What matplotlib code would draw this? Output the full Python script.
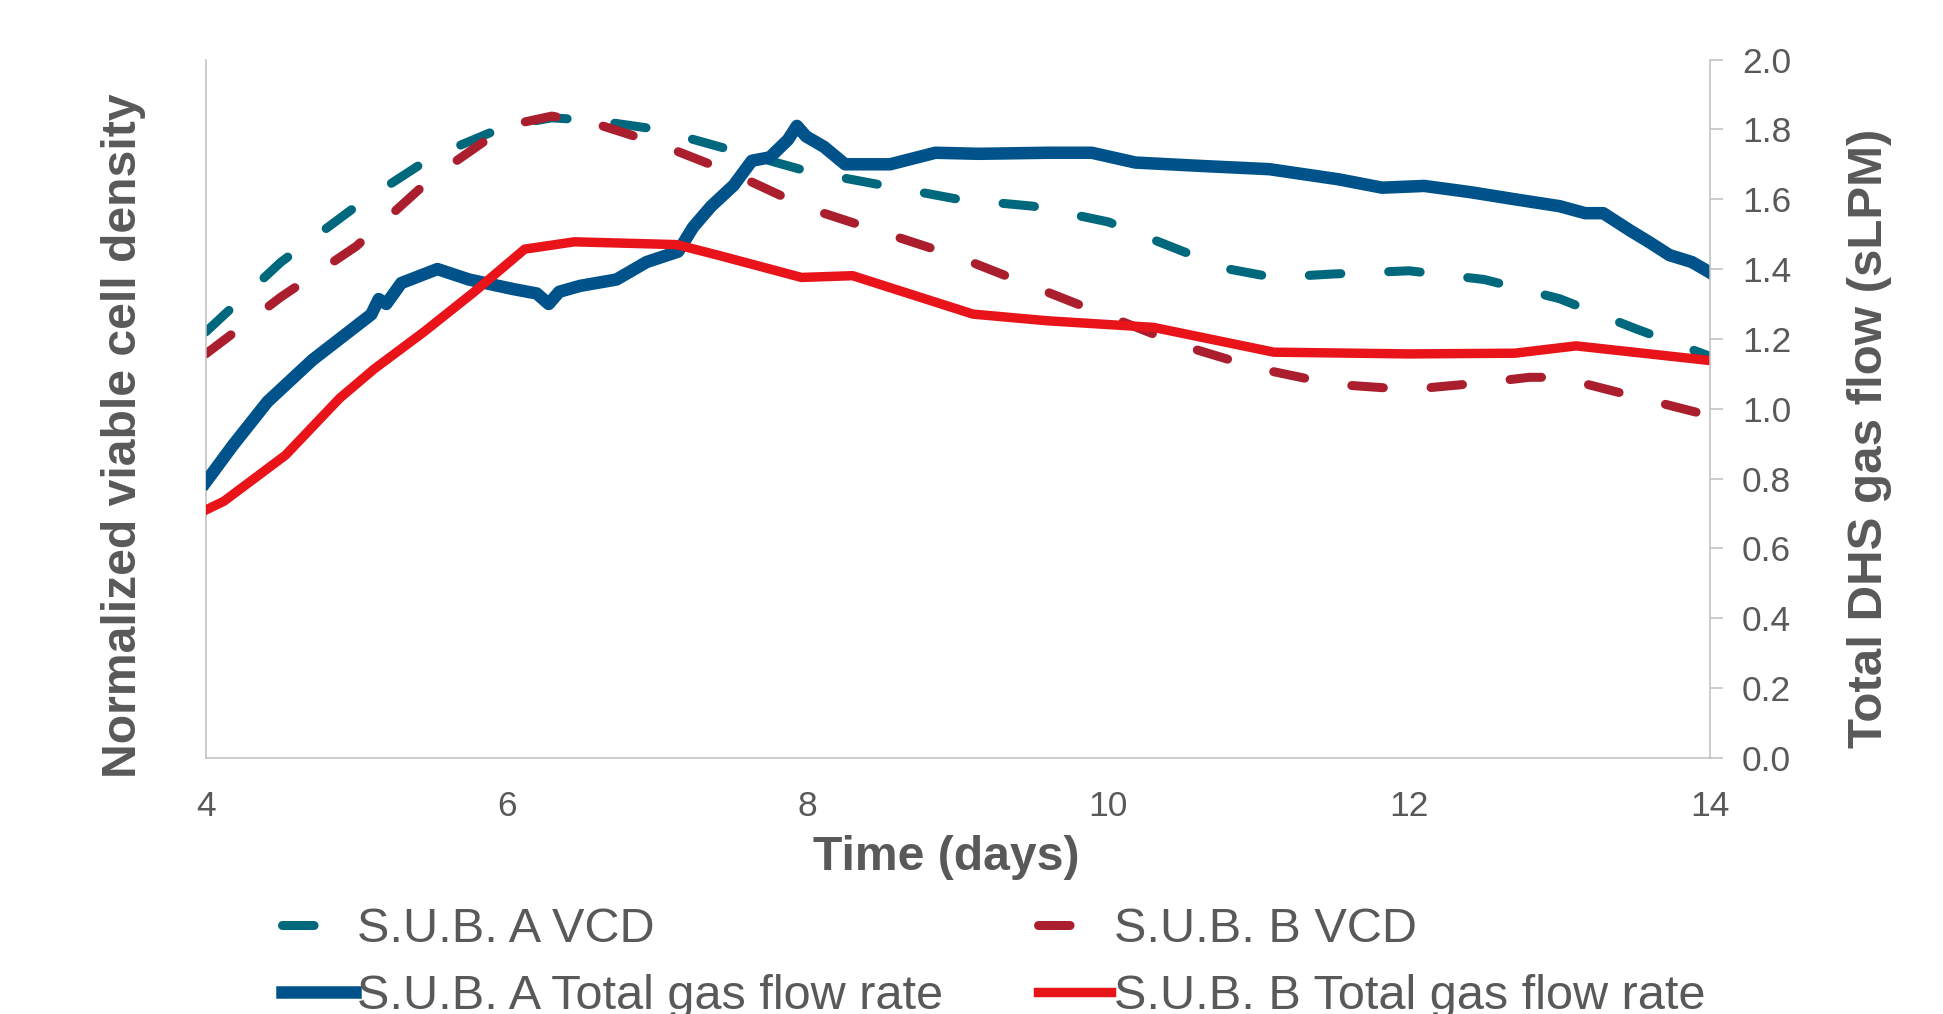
import matplotlib
matplotlib.use("Agg")
import matplotlib.pyplot as plt
import numpy as np

plt.rcParams['font.family'] = ['Liberation Sans', 'DejaVu Sans']

# S.U.B. A / B normalized VCD (dashed, left axis, no tick labels)
days_vcd_a = [4.0, 4.5, 5.0, 5.5, 6.0, 6.3, 6.6, 7.0, 7.5, 8.0, 8.5, 9.0, 9.5, 10.0,
              10.5, 10.8, 11.1, 11.5, 12.0, 12.5, 13.0, 13.5, 14.0]
vcd_a = [1.22, 1.42, 1.58, 1.72, 1.81, 1.833, 1.825, 1.80, 1.74, 1.68, 1.64, 1.60, 1.58, 1.535,
         1.45, 1.40, 1.376, 1.386, 1.395, 1.37, 1.315, 1.23, 1.15]
days_vcd_b = [4.0, 4.5, 5.0, 5.5, 6.0, 6.3, 6.6, 7.0, 7.5, 8.0, 8.5, 9.0, 9.5, 10.0,
              10.5, 11.0, 11.5, 12.0, 12.5, 12.8, 13.0, 13.5, 14.0]
vcd_b = [1.157, 1.32, 1.465, 1.66, 1.81, 1.838, 1.815, 1.76, 1.675, 1.575, 1.505, 1.435, 1.35, 1.265,
         1.18, 1.115, 1.07, 1.055, 1.075, 1.09, 1.09, 1.035, 0.98]

# total DHS gas flow (sLPM, right axis)
days_gas_a = [4.0, 4.18, 4.41, 4.71, 4.95, 5.1, 5.15, 5.2, 5.3, 5.54, 5.75, 6.04, 6.2, 6.28, 6.35,
              6.49, 6.73, 6.93, 7.14, 7.24, 7.36, 7.51, 7.63, 7.75, 7.87, 7.93, 7.99, 8.11, 8.25,
              8.55, 8.85, 9.14, 9.59, 9.89, 10.18, 10.63, 11.07, 11.53, 11.82, 12.1, 12.41, 12.7,
              13.0, 13.17, 13.29, 13.47, 13.6, 13.73, 13.88, 14.0]
gas_a = [0.79, 0.895, 1.02, 1.14, 1.22, 1.27, 1.314, 1.30, 1.36, 1.40, 1.37, 1.343, 1.33, 1.30, 1.335,
         1.352, 1.37, 1.42, 1.45, 1.52, 1.58, 1.64, 1.71, 1.72, 1.77, 1.81, 1.78, 1.75, 1.70,
         1.70, 1.733, 1.73, 1.733, 1.733, 1.705, 1.695, 1.686, 1.657, 1.633, 1.638, 1.62, 1.60,
         1.58, 1.56, 1.56, 1.51, 1.476, 1.44, 1.42, 1.39]
days_gas_b = [4.0, 4.12, 4.53, 4.89, 5.12, 5.45, 5.78, 6.12, 6.45, 7.13, 7.42, 7.96, 8.3, 9.1,
              9.59, 10.3, 11.1, 12.0, 12.7, 13.11, 14.0]
gas_b = [0.71, 0.735, 0.867, 1.03, 1.114, 1.22, 1.333, 1.457, 1.478, 1.47, 1.438, 1.376, 1.381, 1.271,
         1.252, 1.233, 1.162, 1.157, 1.159, 1.18, 1.138]

x_ticks = [4, 6, 8, 10, 12, 14]
y2_ticks = np.arange(0, 2.01, 0.2)

GREY = "#595959"
SPINE = "#BFBFBF"
C_VA, C_VB, C_GA, C_GB = "#00687D", "#AA1E2D", "#00538A", "#E8141A"
FS_LAB = 34.7

fig = plt.figure(figsize=(19.43, 10.14), dpi=100)
ax = fig.add_axes([0.1059, 0.2525, 0.7742, 0.6888])
ax2 = ax.twinx()

dash_kw = dict(lw=6.5, dashes=(3.5, 5.3), dash_capstyle="round")
h1, = ax.plot(days_vcd_a, vcd_a, color=C_VA, label="S.U.B. A VCD", **dash_kw)
h3, = ax.plot(days_vcd_b, vcd_b, color=C_VB, label="S.U.B. B VCD", **dash_kw)
h2, = ax2.plot(days_gas_a, gas_a, color=C_GA, lw=9, solid_joinstyle="round",
               label="S.U.B. A Total gas flow rate")
h4, = ax2.plot(days_gas_b, gas_b, color=C_GB, lw=6.8, solid_joinstyle="round",
               label="S.U.B. B Total gas flow rate")

ax.set_xlim(4, 14); ax.set_ylim(0, 2); ax2.set_ylim(0, 2)
ax.set_xticks(x_ticks)
ax.set_yticks([])
ax.tick_params(axis="x", length=0, pad=23, labelsize=25.5, labelcolor=GREY)
ax2.set_yticks(y2_ticks)
ax2.set_yticklabels([f"{v:.1f}" for v in y2_ticks])
ax2.tick_params(axis="y", direction="out", length=9, width=1.1, color=SPINE,
                labelsize=25.5, labelcolor=GREY, pad=14)
for a in (ax, ax2):
    for s in a.spines.values():
        s.set_color(SPINE); s.set_linewidth(1.1)
ax.spines["top"].set_visible(False); ax.spines["right"].set_visible(False)
for s in ("top", "left", "bottom"):
    ax2.spines[s].set_visible(False)

fig.text(124 / 1943, 1 - 436 / 1014, "Normalized viable cell density", rotation=90,
         ha="center", va="center", fontsize=FS_LAB, fontweight="bold", color=GREY)
fig.text(1869 / 1943, 1 - 438 / 1014, "Total DHS gas flow (sLPM)", rotation=90,
         ha="center", va="center", fontsize=35.5, fontweight="bold", color=GREY)
fig.text(946 / 1943, 1 - 858 / 1014, "Time (days)", ha="center", va="center",
         fontsize=FS_LAB, fontweight="bold", color=GREY)

leg = fig.legend([h1, h2, h3, h4], [h.get_label() for h in (h1, h2, h3, h4)], ncol=2,
                 loc="upper left", bbox_to_anchor=(0.1451, 0.1060), frameon=False, fontsize=35,
                 handlelength=1.5, handletextpad=0.05, columnspacing=1.95, labelspacing=0.47,
                 borderpad=0, borderaxespad=0)
for t in leg.get_texts():
    t.set_color(GREY)

fig.savefig("out.png", dpi=100)
